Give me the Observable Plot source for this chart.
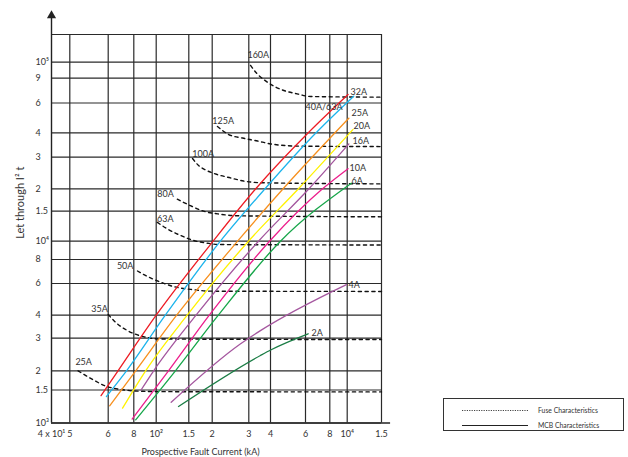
<!DOCTYPE html>
<html>
<head>
<meta charset="utf-8">
<script src="https://cdn.jsdelivr.net/npm/d3@7"></script>
<script src="https://cdn.jsdelivr.net/npm/@observablehq/plot@0.6"></script>
<style>
  body { margin: 0; background: #fff; }
  #wrap { position: relative; width: 628px; height: 457px; font-family: Lato, "Open Sans", sans-serif; }
  #legend { position: absolute; left: 443px; top: 398px; width: 181px; height: 33px; box-sizing: border-box; border: 1px solid #333; background: #fff; }
  #legend svg { display: block; }
</style>
</head>
<body>
<div id="wrap">
  <div id="chart"></div>
  <div id="legend">
    <svg width="179" height="31">
      <line x1="18" x2="84" y1="11.5" y2="11.5" stroke="#444" stroke-width="1" stroke-dasharray="1.2,1.2"></line>
      <text x="94" y="11.5" dy="0.35em" font-size="6.8" fill="#333" font-family="Lato, sans-serif">Fuse Characteristics</text>
      <line x1="18" x2="84" y1="26.5" y2="26.5" stroke="#222" stroke-width="1.1"></line>
      <text x="94" y="26.5" dy="0.35em" font-size="6.8" fill="#333" font-family="Lato, sans-serif">MCB Characteristics</text>
    </svg>
  </div>
</div>
<script>
// ---- tick values and labels ----
const xTicks = [400, 500, 600, 800, 1000, 1500, 2000, 3000, 4000, 6000, 8000, 10000, 15000];
const xTickText = ["4 x 10¹", "5", "6", "8", "10²", "1.5", "2", "3", "4", "6", "8", "10⁴", "1.5"];
const yTicks = [1000, 1500, 2000, 3000, 4000, 6000, 8000, 10000, 15000, 20000, 30000, 40000, 60000, 90000, 100000];
const yTickText = ["10³", "1.5", "2", "3", "4", "6", "8", "10⁴", "1.5", "2", "3", "4", "6", "9", "10⁵"];
const yTop = 150000;

// ---- fuse characteristics (dashed) ----
const fuseNames = ["25A", "35A", "50A", "63A", "80A", "100A", "125A", "160A"];
const fuseCurrent = [
  [520, 560, 590, 675, 830, 1050, 15000],
  [600, 650, 745, 880, 1055, 15000],
  [830, 925, 1055, 1240, 1590, 1960, 15000],
  [1015, 1150, 1355, 1590, 1890, 2190, 15000],
  [1300, 1530, 1800, 2190, 2650, 15000],
  [1570, 1690, 1840, 2070, 2450, 2830, 3650, 15000],
  [2120, 2400, 2800, 3370, 4000, 5470, 15000],
  [3070, 3340, 3660, 4160, 4670, 5450, 6370, 15000]
];
const fuseI2t = [
  [2000, 1740, 1600, 1520, 1480, 1470, 1465],
  [4040, 3670, 3300, 3060, 2970, 2950],
  [6970, 6490, 6100, 5770, 5540, 5440, 5420],
  [12900, 11800, 10800, 10100, 9760, 9600, 9550],
  [17500, 16100, 15000, 14400, 14100, 13900],
  [29500, 27000, 25500, 24200, 23000, 22100, 21600, 21300],
  [43600, 39200, 37600, 36300, 35100, 34200, 34000],
  [97900, 92800, 88100, 79000, 73600, 69700, 66700, 66000]
];
const fuseLabelCurrent = [534, 576, 726, 1119, 1123, 1791, 2259, 3403];
const fuseLabelI2t = [2217, 4302, 7355, 13540, 18590, 31220, 46660, 110300];

// ---- MCB characteristics (solid, coloured) ----
const mcbNames = ["32A", "40A/63A", "25A", "20A", "16A", "10A", "6A", "4A", "2A"];
const mcbColors = ["#ed1c24", "#1cb4ec", "#f7901e", "#fff200", "#a3569e", "#ec1e8c", "#17a64a", "#a5579f", "#1b7d45"];
const mcbCurrent = [
  [580, 670, 1000, 2020, 3290, 6200, 10100],
  [595, 737, 1120, 2190, 3720, 6800, 10800],
  [610, 815, 1290, 2650, 4630, 10200],
  [705, 900, 1470, 2990, 5530, 10700],
  [860, 975, 1640, 3410, 6250, 10200],
  [785, 1165, 1930, 3950, 7340, 10100],
  [815, 1270, 2140, 4490, 10500],
  [1205, 2740, 3500, 9900],
  [1320, 3500, 4030, 6190]
];
const mcbI2t = [
  [1400, 2000, 4000, 10000, 20000, 40000, 68900],
  [1385, 2000, 4000, 10000, 20000, 40000, 67000],
  [1235, 2000, 4000, 10000, 20000, 48800],
  [1200, 2000, 4000, 10000, 20000, 41800],
  [1500, 2000, 4000, 10000, 20000, 35100],
  [1050, 2000, 4000, 10000, 20000, 25900],
  [1040, 2000, 4000, 10000, 21500],
  [1290, 2800, 3300, 5920],
  [1225, 2420, 2600, 3170]
];
const mcbLabelCurrent = [10400, 6000, 10520, 10770, 10650, 10270, 10520, 10150, 6442];
const mcbLabelI2t = [71240, 56830, 52030, 43770, 36100, 26050, 22050, 5850, 3194];

// ---- scale layout (where the reference's printed grid lines sit) ----
const xRange = [51, 69.3, 107.7, 133.3, 155.7, 188.3, 211.7, 248.3, 270, 305, 329.3, 346.7, 381];
const yDomain = [...yTicks, yTop];
const yRange = [422.5, 389.5, 370.3, 337.7, 314.7, 283, 259, 240.7, 210.7, 188.3, 156.7, 132.3, 102.5, 77.7, 61.7, 34];

// ---- tables built from the arrays ----
const fuseRows = fuseNames.flatMap((name, i) => fuseCurrent[i].map((x, j) => ({name, x, y: fuseI2t[i][j]})));
const fuseLabelRows = fuseNames.map((name, i) => ({name, x: fuseLabelCurrent[i], y: fuseLabelI2t[i]}));
const mcbRows = mcbNames.flatMap((name, i) => mcbCurrent[i].map((x, j) => ({name, x, y: mcbI2t[i][j]})));
const mcbLabelRows = mcbNames.map((name, i) => ({name, x: mcbLabelCurrent[i], y: mcbLabelI2t[i]}));

const xMin = xTicks[0], xMax = xTicks[xTicks.length - 1], yMin = yTicks[0];
const ink = "#2a2a2a";

const chart = Plot.plot({
  width: 628,
  height: 457,
  marginLeft: 51,
  marginRight: 247,
  marginTop: 34,
  marginBottom: 34.5,
  x: {type: "log", domain: xTicks, range: xRange, axis: null},
  y: {type: "log", domain: yDomain, range: yRange, axis: null},
  color: {domain: mcbNames, range: mcbColors},
  style: {fontFamily: "Lato, 'Open Sans', sans-serif", fontSize: "9px", color: "#333", background: "#fff"},
  marks: [
    // grid
    Plot.ruleY(yDomain, {x1: () => xMin, x2: () => xMax, stroke: ink, strokeWidth: 1.2}),
    Plot.ruleX(xTicks.slice(1), {y1: () => yMin, y2: () => yTop, stroke: ink, strokeWidth: 1.2}),
    // axes
    Plot.ruleX([xMin], {y1: () => yMin, y2: () => 198000, stroke: "#222", strokeWidth: 1.4}),
    Plot.dot([198000], {x: () => xMin, y: d => d, symbol: "triangle", r: 3.4, fill: "#222", stroke: null}),
    Plot.ruleY([yMin], {x1: () => xMin, x2: () => 16700, stroke: "#222", strokeWidth: 1.4}),
    // tick labels
    Plot.text(xTicks, {x: d => d, y: () => yMin, text: (d, i) => xTickText[i], dy: 11, fill: "#333"}),
    Plot.text(yTicks, {x: () => xMin, y: d => d, text: (d, i) => yTickText[i], dx: -16, textAnchor: "start", fill: "#333"}),
    // fuse curves
    Plot.line(fuseRows, {x: "x", y: "y", z: "name", stroke: "#111", strokeWidth: 1.4, strokeDasharray: "3.2,3.6", curve: "monotone-x"}),
    Plot.text(fuseLabelRows, {x: "x", y: "y", text: "name", fill: "#333"}),
    // MCB curves
    Plot.line(mcbRows, {x: "x", y: "y", z: "name", stroke: "name", strokeWidth: 1.3, curve: "monotone-x"}),
    Plot.text(mcbLabelRows, {x: "x", y: "y", text: "name", textAnchor: "start", fill: "#333"}),
    // axis titles
    Plot.text(["Let through I² t"], {frameAnchor: "left", textAnchor: "middle", lineAnchor: "middle", rotate: -90, dx: -31, dy: -26, fontSize: 11, fill: "#333"}),
    Plot.text(["Prospective Fault Current (kA)"], {frameAnchor: "bottom", textAnchor: "middle", lineAnchor: "middle", dx: -16, dy: 29.2, fill: "#333"})
  ]
});
document.getElementById("chart").appendChild(chart);
</script>
</body>
</html>
